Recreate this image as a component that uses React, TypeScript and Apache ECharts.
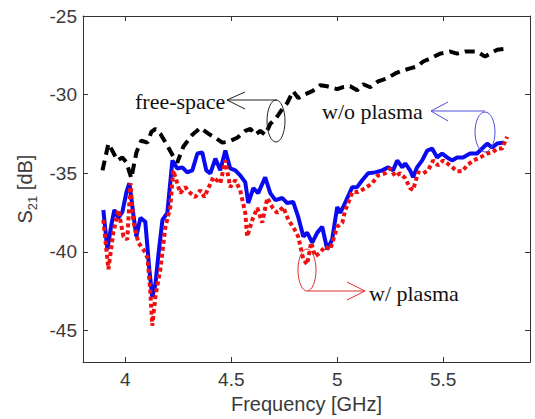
import React, { useEffect, useRef } from 'react';
import * as echarts from 'echarts';

const xTickLabels = [4, 4.5, 5, 5.5];
const yTickLabels = [-45, -40, -35, -30, -25];

const freeSpaceFreq = [3.892, 3.920, 3.943, 3.962, 3.986, 4.005, 4.028, 4.052, 4.075, 4.104, 4.123, 4.142, 4.165, 4.198, 4.226, 4.245, 4.274, 4.316, 4.354, 4.392, 4.425, 4.458, 4.486, 4.528, 4.566, 4.590, 4.613, 4.637, 4.660, 4.684, 4.712, 4.741, 4.764, 4.792, 4.816, 4.849, 4.882, 4.920, 4.953, 5.000, 5.024, 5.061, 5.094, 5.123, 5.156, 5.193, 5.236, 5.274, 5.311, 5.344, 5.377, 5.406, 5.439, 5.486, 5.533, 5.566, 5.604, 5.660, 5.698, 5.722, 5.755, 5.792];
const freeSpaceS21 = [-34.81, -33.11, -33.68, -34.18, -33.99, -34.31, -35.31, -33.68, -32.92, -33.05, -32.36, -32.17, -32.48, -33.24, -33.93, -34.31, -33.30, -32.55, -32.11, -32.48, -32.74, -33.05, -32.99, -32.74, -32.30, -32.17, -32.55, -32.30, -32.55, -31.86, -31.48, -30.91, -30.53, -29.78, -30.22, -29.97, -29.78, -29.40, -29.47, -29.65, -29.53, -29.47, -29.72, -29.34, -29.53, -29.15, -28.96, -28.65, -28.46, -28.33, -28.21, -27.89, -27.70, -27.39, -27.26, -27.39, -27.26, -27.26, -27.58, -27.39, -27.14, -27.08];

const woPlasmaFreq = [3.896, 3.915, 3.934, 3.948, 3.967, 3.986, 4.005, 4.019, 4.038, 4.052, 4.071, 4.094, 4.113, 4.127, 4.142, 4.156, 4.175, 4.198, 4.222, 4.245, 4.269, 4.292, 4.316, 4.340, 4.363, 4.382, 4.401, 4.425, 4.448, 4.472, 4.495, 4.519, 4.542, 4.566, 4.580, 4.604, 4.627, 4.660, 4.684, 4.708, 4.741, 4.764, 4.792, 4.816, 4.840, 4.858, 4.882, 4.906, 4.929, 4.953, 4.976, 5.000, 5.014, 5.028, 5.071, 5.094, 5.118, 5.146, 5.179, 5.212, 5.241, 5.264, 5.283, 5.307, 5.321, 5.344, 5.358, 5.377, 5.401, 5.425, 5.448, 5.472, 5.495, 5.519, 5.542, 5.566, 5.594, 5.627, 5.660, 5.689, 5.708, 5.731, 5.755, 5.783];
const woPlasmaS21 = [-37.33, -39.84, -38.27, -37.33, -37.83, -37.45, -36.19, -35.63, -37.64, -39.02, -37.83, -38.08, -41.10, -42.86, -42.04, -40.16, -37.96, -37.52, -34.18, -34.69, -34.62, -34.94, -34.81, -33.74, -33.68, -34.81, -35.00, -34.06, -34.81, -33.55, -34.69, -34.81, -35.13, -35.57, -36.89, -35.94, -36.26, -35.25, -36.26, -36.70, -36.57, -36.89, -36.82, -37.77, -39.02, -38.77, -39.40, -38.77, -38.40, -39.84, -39.21, -37.14, -37.52, -37.14, -35.88, -35.88, -35.44, -35.00, -34.94, -34.81, -34.62, -34.81, -34.18, -34.62, -34.37, -34.81, -35.25, -34.62, -34.18, -33.55, -33.43, -33.99, -33.74, -33.99, -34.18, -33.99, -33.99, -33.74, -33.74, -33.36, -33.11, -33.36, -33.11, -33.05];

const wPlasmaFreq = [3.896, 3.920, 3.943, 3.967, 3.991, 4.009, 4.024, 4.038, 4.061, 4.085, 4.104, 4.118, 4.127, 4.142, 4.165, 4.189, 4.212, 4.226, 4.245, 4.259, 4.283, 4.307, 4.330, 4.354, 4.373, 4.392, 4.415, 4.448, 4.472, 4.495, 4.519, 4.542, 4.566, 4.575, 4.599, 4.623, 4.646, 4.670, 4.693, 4.717, 4.745, 4.769, 4.792, 4.816, 4.840, 4.858, 4.877, 4.896, 4.920, 4.943, 4.967, 5.000, 5.024, 5.038, 5.052, 5.071, 5.099, 5.132, 5.165, 5.193, 5.226, 5.250, 5.274, 5.297, 5.321, 5.344, 5.358, 5.382, 5.406, 5.429, 5.453, 5.476, 5.500, 5.533, 5.566, 5.590, 5.613, 5.642, 5.675, 5.708, 5.731, 5.755, 5.778, 5.802];
const wPlasmaS21 = [-37.96, -41.10, -38.77, -37.33, -39.02, -39.21, -35.63, -38.08, -39.40, -39.84, -40.35, -42.55, -44.69, -42.80, -41.10, -38.40, -37.14, -34.81, -35.63, -36.26, -35.88, -36.26, -36.51, -36.07, -36.51, -35.94, -35.25, -35.63, -34.18, -35.88, -35.44, -36.07, -37.52, -39.02, -37.96, -37.20, -38.14, -36.57, -37.14, -37.52, -37.14, -37.96, -38.40, -39.02, -40.47, -40.79, -39.40, -40.28, -40.03, -39.65, -39.84, -38.40, -38.14, -37.33, -36.89, -36.19, -36.19, -35.94, -35.63, -35.13, -35.00, -34.69, -35.19, -35.00, -35.31, -35.94, -36.07, -34.94, -35.00, -34.81, -34.18, -34.50, -34.18, -34.50, -34.87, -34.87, -34.50, -34.18, -33.99, -33.74, -33.68, -33.43, -33.43, -32.67];

const X_MIN = 3.8;
const X_MAX = 5.91;
const Y_MIN = -47;
const Y_MAX = -25;

const SANS = "'Liberation Sans', Arial, Helvetica, sans-serif";
const SERIF = "'Liberation Serif', 'Times New Roman', serif";
const AX = '#3a3a3a';

function pairs(xs: number[], ys: number[]) {
  const n = Math.min(xs.length, ys.length);
  const out: number[][] = [];
  for (let i = 0; i < n; i++) out.push([xs[i], ys[i]]);
  return out;
}

const isIn = (list: number[], v: number) => list.some((t) => Math.abs(t - v) < 1e-6);

export default function App() {
  const ref = useRef<HTMLDivElement>(null);
  useEffect(() => {
    const chart = echarts.init(ref.current!, null, { renderer: 'svg' });
    const baseX = {
      type: 'value',
      min: X_MIN,
      max: X_MAX,
      splitNumber: 5,
      splitLine: { show: false },
      axisLine: { show: true, onZero: false, lineStyle: { color: '#333', width: 1 } },
      axisTick: { show: true, inside: true, length: 5, lineStyle: { color: '#333' } },
    };
    const baseY = {
      type: 'value',
      min: Y_MIN,
      max: Y_MAX,
      splitNumber: 5,
      splitLine: { show: false },
      axisLine: { show: true, onZero: false, lineStyle: { color: '#333', width: 1 } },
      axisTick: { show: true, inside: true, length: 5, lineStyle: { color: '#333' } },
    };
    chart.setOption({
      animation: false,
      backgroundColor: '#fff',
      grid: { left: 83, right: 5, top: 16, bottom: 56, containLabel: false },
      xAxis: [
        {
          ...baseX,
          position: 'bottom',
          name: 'Frequency [GHz]',
          nameLocation: 'middle',
          nameGap: 29,
          nameTextStyle: { fontFamily: SANS, fontSize: 20, color: AX },
          axisLabel: {
            margin: 8,
            fontFamily: SANS,
            fontSize: 19,
            color: AX,
            formatter: (v: number) => (isIn(xTickLabels, v) ? String(v) : ''),
          },
        },
        { ...baseX, position: 'top', axisLabel: { show: false } },
      ],
      yAxis: [
        {
          ...baseY,
          position: 'left',
          name: '{a|S}{b|21}{a| [dB]}',
          nameLocation: 'middle',
          nameRotate: 90,
          nameGap: 42,
          nameTextStyle: {
            rich: {
              a: { fontFamily: SANS, fontSize: 20, color: AX, lineHeight: 27, verticalAlign: 'middle' },
              b: { fontFamily: SANS, fontSize: 13, color: AX, lineHeight: 12, verticalAlign: 'bottom' },
            },
          },
          axisLabel: {
            margin: 6,
            fontFamily: SANS,
            fontSize: 19,
            color: AX,
            formatter: (v: number) => (isIn(yTickLabels, v) ? String(v) : ''),
          },
        },
        { ...baseY, position: 'right', axisLabel: { show: false } },
      ],
      series: [
        {
          name: 'free-space',
          type: 'line',
          data: pairs(freeSpaceFreq, freeSpaceS21),
          showSymbol: false,
          lineStyle: { color: '#000', width: 4, type: [10, 6] },
          z: 2,
        },
        {
          name: 'w/o plasma',
          type: 'line',
          data: pairs(woPlasmaFreq, woPlasmaS21),
          showSymbol: false,
          lineStyle: { color: '#0a0af0', width: 4, type: 'solid' },
          z: 3,
        },
        {
          name: 'w/ plasma',
          type: 'line',
          data: pairs(wPlasmaFreq, wPlasmaS21),
          showSymbol: false,
          lineStyle: { color: '#f01010', width: 4, type: [4, 3] },
          z: 4,
        },
      ],
      graphic: [
        { type: 'text', x: 135, y: 101, style: { text: 'free-space', fontFamily: SERIF, fontSize: 22, fill: '#111', verticalAlign: 'middle' }, z: 10 },
        { type: 'ellipse', shape: { cx: 276, cy: 121, rx: 9, ry: 21 }, style: { fill: 'none', stroke: '#222', lineWidth: 1 }, z: 10 },
        { type: 'polyline', shape: { points: [[277, 100], [227, 100]] }, style: { stroke: '#222', lineWidth: 1, fill: 'none' }, z: 10 },
        { type: 'polyline', shape: { points: [[245, 92], [227, 100], [245, 109]] }, style: { stroke: '#222', lineWidth: 1, fill: 'none' }, z: 10 },
        { type: 'text', x: 322, y: 111, style: { text: 'w/o plasma', fontFamily: SERIF, fontSize: 22, fill: '#111', verticalAlign: 'middle' }, z: 10 },
        { type: 'ellipse', shape: { cx: 485, cy: 132, rx: 10, ry: 20 }, style: { fill: 'none', stroke: '#5050dd', lineWidth: 1 }, z: 10 },
        { type: 'polyline', shape: { points: [[485, 111], [431, 111]] }, style: { stroke: '#5050dd', lineWidth: 1, fill: 'none' }, z: 10 },
        { type: 'polyline', shape: { points: [[448, 102], [431, 111], [448, 121]] }, style: { stroke: '#5050dd', lineWidth: 1, fill: 'none' }, z: 10 },
        { type: 'text', x: 369, y: 293, style: { text: 'w/ plasma', fontFamily: SERIF, fontSize: 22, fill: '#111', verticalAlign: 'middle' }, z: 10 },
        { type: 'ellipse', shape: { cx: 307, cy: 270, rx: 9, ry: 21 }, style: { fill: 'none', stroke: '#dd3030', lineWidth: 1 }, z: 10 },
        { type: 'polyline', shape: { points: [[308, 291], [365, 291]] }, style: { stroke: '#dd3030', lineWidth: 1, fill: 'none' }, z: 10 },
        { type: 'polyline', shape: { points: [[347, 282], [365, 291], [347, 300]] }, style: { stroke: '#dd3030', lineWidth: 1, fill: 'none' }, z: 10 },
      ],
    });
    return () => chart.dispose();
  }, []);
  return (
    <div
      ref={ref}
      style={{ position: 'fixed', left: 0, top: 0, width: 535, height: 419, background: '#fff' }}
    />
  );
}
